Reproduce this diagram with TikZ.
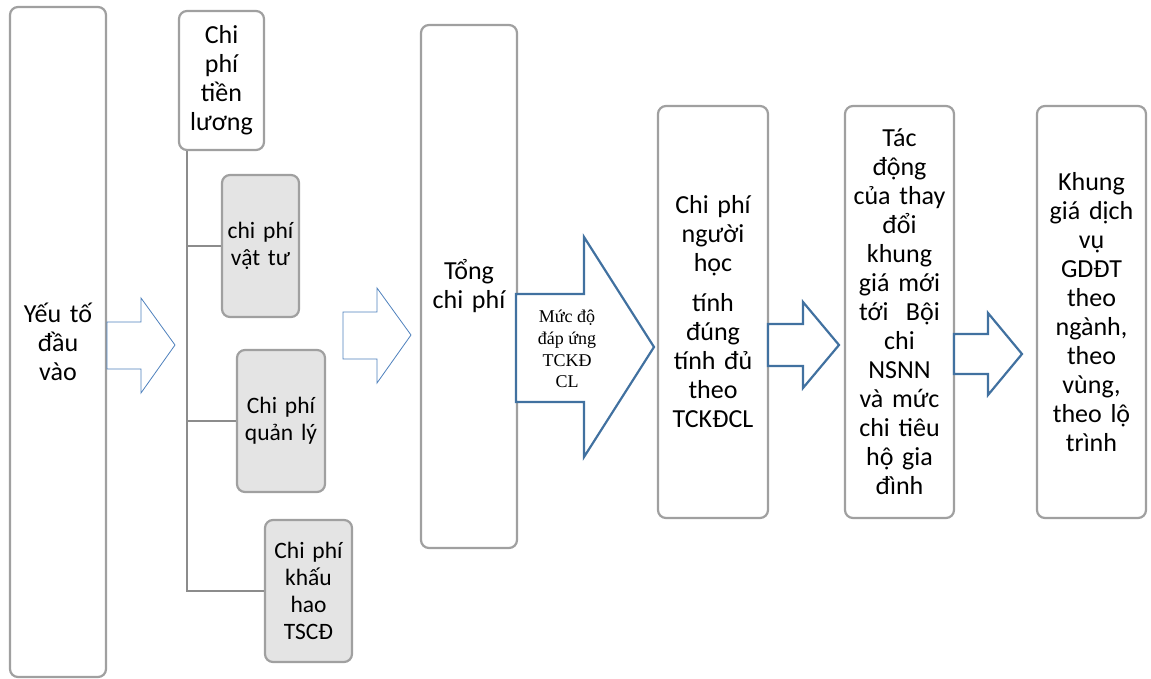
\documentclass[tikz,border=0pt]{standalone}
\usepackage{fontspec}
\setmainfont{Carlito}
\newfontfamily\timesfont{Liberation Serif}
\definecolor{boxgray}{RGB}{160,160,160}
\definecolor{linegray}{RGB}{140,140,140}
\definecolor{fillgray}{RGB}{228,228,228}
\definecolor{arrowblue}{RGB}{65,113,160}
\definecolor{thinblue}{RGB}{79,129,189}
\begin{document}
\begin{tikzpicture}[x=1pt,y=-1pt,
  box/.style={draw=boxgray, line width=2.2pt, rounded corners=8pt, fill=white,
    inner sep=0pt, align=center, font=\fontsize{26}{29}\selectfont},
  subbox/.style={box, fill=fillgray, font=\fontsize{23.5}{27}\selectfont},
  tree/.style={draw=linegray, line width=2.7pt},
  thinarrow/.style={draw=thinblue, line width=0.8pt, fill=white, line join=miter},
  thickarrow/.style={draw=arrowblue, line width=2.2pt, fill=white, line join=miter},
]
\useasboundingbox (0,0) rectangle (1151,678);

% boxes
\node[box, minimum width=96pt, minimum height=670pt, text width=90pt] (yeuto) at (58,342) {Yếu tố\\đầu\\vào};
\node[box, minimum width=85pt, minimum height=139pt, text width=80pt] (luong) at (221.5,80.5) {Chi\\phí\\tiền\\lương};
\node[box, minimum width=96pt, minimum height=523pt, text width=90pt] (tong) at (469,286.5) {Tổng\\chi phí};
\node[box, minimum width=110pt, minimum height=412pt, text width=104pt] (nguoihoc) at (713,312) {Chi phí\\người\\học\\[11pt]tính\\đúng\\tính đủ\\theo\\TCKĐCL};
\node[box, minimum width=109pt, minimum height=412pt, text width=104pt] (tacdong) at (899.5,312) {Tác\\động\\của thay\\đổi\\khung\\giá mới\\tới~ Bội\\chi\\NSNN\\và mức\\chi tiêu\\hộ gia\\đình};
\node[box, minimum width=109pt, minimum height=412pt, text width=104pt] (khung) at (1091.5,312) {Khung\\giá dịch\\vụ\\GDĐT\\theo\\ngành,\\theo\\vùng,\\theo lộ\\trình};

% tree
\coordinate (trunk) at ([xshift=9pt]luong.south west);
\node[subbox, minimum width=77pt, minimum height=142pt, text width=73pt] (vattu) at (260.5,246) {chi phí\\vật tư};
\node[subbox, minimum width=88pt, minimum height=142pt, text width=84pt] (quanly) at (281,421) {Chi phí\\quản lý};
\node[subbox, minimum width=87pt, minimum height=142pt, text width=83pt] (khauhao) at (308.5,591) {Chi phí\\khấu\\hao\\TSCĐ};
\draw[tree] (trunk) -- (trunk |- khauhao.west) -- (khauhao.west);
\draw[tree] (trunk |- vattu.west) -- (vattu.west);
\draw[tree] (trunk |- quanly.west) -- (quanly.west);

% block arrows
\draw[thinarrow] (107,322) -- (141,322) -- (141,298) -- (175,345) -- (141,393) -- (141,369) -- (107,369) -- cycle;
\draw[thinarrow] (343,312) -- (377,312) -- (377,288) -- (411,335) -- (377,383) -- (377,359) -- (343,359) -- cycle;
\draw[thickarrow] (516,294) -- (584,294) -- (584,237) -- (654,347) -- (584,457) -- (584,402) -- (516,402) -- cycle;
\draw[thickarrow] (768,324) -- (803,324) -- (803,302) -- (839,345) -- (803,388) -- (803,366) -- (768,366) -- cycle;
\draw[thickarrow] (954,334) -- (988,334) -- (988,313) -- (1022,354) -- (988,395) -- (988,374) -- (954,374) -- cycle;

\node[align=center, inner sep=0pt, font=\timesfont\fontsize{18}{21.7}\selectfont] (mucdo) at (567,349) {Mức độ\\đáp ứng\\TCKĐ\\CL};
\end{tikzpicture}
\end{document}
